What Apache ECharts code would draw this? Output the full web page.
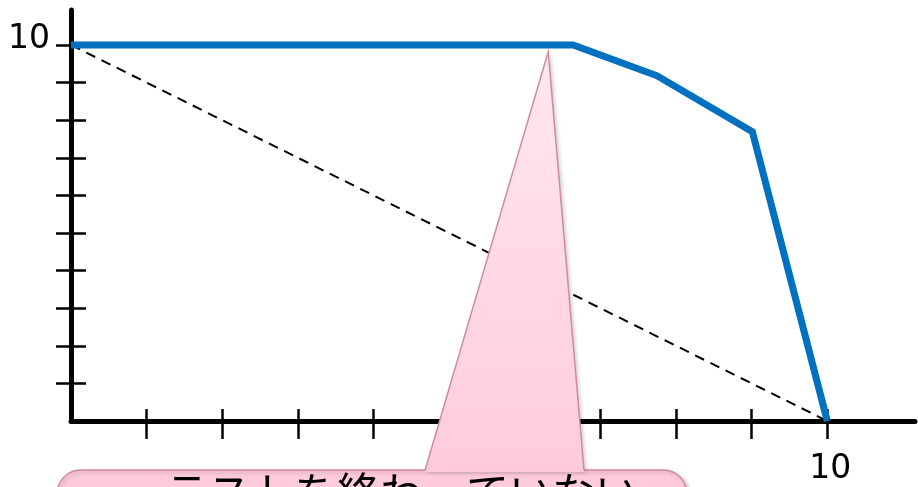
<!DOCTYPE html>
<html>
<head>
<meta charset="utf-8">
<script src="https://cdn.jsdelivr.net/npm/echarts@6/dist/echarts.min.js"></script>
<style>html,body{margin:0;padding:0;background:#fff;}#c{width:918px;height:487px;}</style>
</head>
<body>
<div id="c"></div>
<script>
// data
var curveX = [0, 6.64, 7.75, 9.01, 10];
var curveY = [10, 10, 9.18, 7.69, 0];
var diagX = [0, 10];
var diagY = [10, 0];
var tickValues = [1, 2, 3, 4, 5, 6, 7, 8, 9, 10];
var labelValues = [10];
var calloutText = 'テストを終わっていない';
var calloutPoint = [6.31, 9.82];

function pairs(xs, ys) { return xs.map(function (x, i) { return [x, ys[i]]; }); }

var chart = echarts.init(document.getElementById('c'), null, { renderer: 'canvas' });
var xMax = 11.16, yMax = 10.93;
var font = 'DejaVu Sans';
function xAx(inside) {
  return {
    type: 'value', min: 0, max: xMax, position: 'bottom',
    axisLine: { show: !inside, lineStyle: { color: '#000', width: 5 } },
    axisTick: { show: true, inside: inside, length: inside ? 12 : 18, customValues: tickValues, lineStyle: { color: '#000', width: 2.5 } },
    axisLabel: { show: !inside, customValues: labelValues, margin: 32, color: '#000', fontSize: 33, fontFamily: font, padding: [0, 0, 0, 6] },
    splitLine: { show: false }
  };
}
function yAx(inside) {
  return {
    type: 'value', min: 0, max: yMax, position: 'left',
    axisLine: { show: !inside, lineStyle: { color: '#000', width: 5 } },
    axisTick: { show: true, inside: inside, length: 15, customValues: tickValues, lineStyle: { color: '#000', width: 2.5 } },
    axisLabel: { show: !inside, customValues: labelValues, margin: 21, color: '#000', fontSize: 33, fontFamily: font, verticalAlign: 'bottom', lineHeight: 11 },
    splitLine: { show: false }
  };
}
chart.setOption({
  animation: false,
  grid: { left: 71, right: 3, top: 10, bottom: 66, containLabel: false },
  xAxis: [xAx(false), xAx(true)],
  yAxis: [yAx(false), yAx(true)],
  series: [
    { type: 'line', data: pairs(diagX, diagY), symbol: 'none', lineStyle: { color: '#000', width: 2, type: [10, 7] }, z: 2 },
    { type: 'line', data: pairs(curveX, curveY), symbol: 'none', lineStyle: { color: '#0070C0', width: 7, join: 'miter' }, z: 3 }
  ]
});

var apex = chart.convertToPixel({ gridIndex: 0 }, calloutPoint);
var stroke = '#D08C9E';
var fillC = '#FFCBDA';
chart.setOption({
  graphic: [
    { type: 'rect', z: 100, shape: { x: 57, y: 470, width: 630, height: 80, r: 24 },
      style: { fill: fillC, stroke: stroke, lineWidth: 1.5, shadowBlur: 4, shadowOffsetX: 2, shadowOffsetY: 2, shadowColor: 'rgba(0,0,0,0.25)' } },
    { type: 'polygon', z: 101, shape: { points: [apex, [425, 472], [584, 472]] },
      style: { fill: new echarts.graphic.LinearGradient(0, 0, 0, 1, [{ offset: 0, color: '#FFE8EF' }, { offset: 1, color: fillC }]),
        shadowBlur: 4, shadowOffsetX: 2, shadowOffsetY: 0, shadowColor: 'rgba(0,0,0,0.22)' } },
    { type: 'polygon', z: 102, shape: { points: [apex, [425, 471.5], [584, 471.5]] },
      style: { fill: new echarts.graphic.LinearGradient(0, 0, 0, 1, [{ offset: 0, color: '#FFE8EF' }, { offset: 1, color: fillC }]) } },
    { type: 'polyline', z: 103, shape: { points: [[425, 470.5], apex, [584, 470.5]] },
      style: { stroke: stroke, lineWidth: 1.5, fill: null } },
    { type: 'text', z: 104, x: 165, y: 471,
      style: { text: calloutText, fill: '#000', font: '43px "Noto Sans CJK JP"', textVerticalAlign: 'top' } }
  ]
});
</script>
</body>
</html>
